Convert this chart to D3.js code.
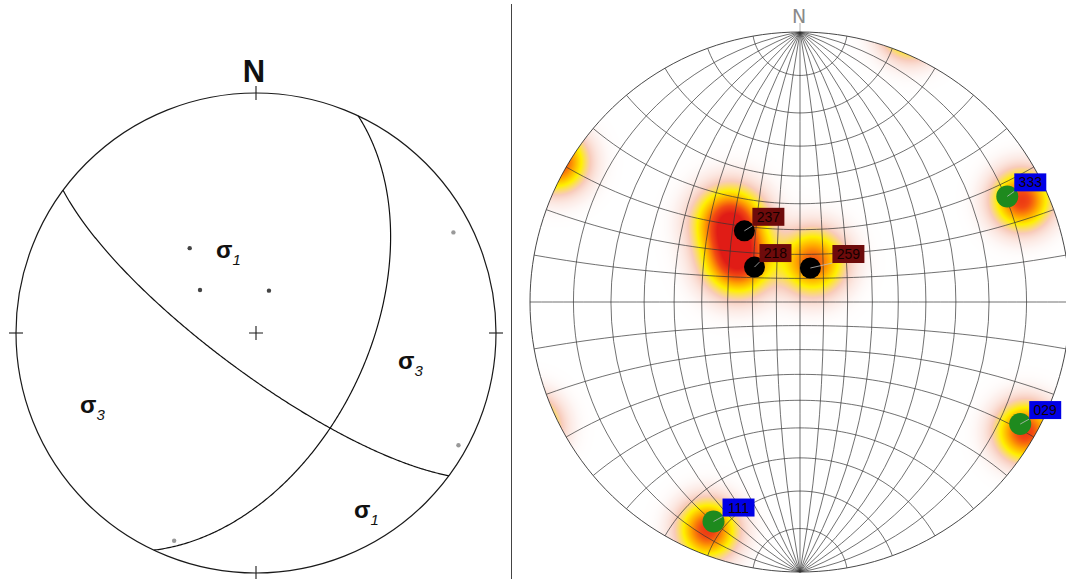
<!DOCTYPE html>
<html>
<head>
<meta charset="utf-8">
<script src="https://cdn.jsdelivr.net/npm/d3@7"></script>
<style>
  html, body { margin: 0; padding: 0; background: #ffffff; }
  svg { display: block; }
</style>
</head>
<body>
<svg id="chart" width="1066" height="579"></svg>
<script>
// Principal stress axes (trend / plunge, degrees), lower hemisphere
const sigma1Trend  = [322, 307.5, 17];
const sigma1Plunge = [53, 66, 75];
const sigma3Trend  = [63, 119, 201.5];
const sigma3Plunge = [8.5, 4, 7.7];

// Separating planes (dip direction / dip, degrees)
const planeDipDir = [216.5, 115.2];
const planeDip    = [76.6, 51.6];

// Tags shown next to each axis on the Wulff net
const sigma1Tags = ["237", "218", "259"];
const sigma3Tags = ["333", "029", "111"];

// Concentration maxima of the axis density (trend / plunge, relative strength)
const densityTrend  = [318.8, 304.1, 18, 65.3, 120, 202];
const densityPlunge = [47, 59, 72.3, 5.8, 2.2, 5.4];
const densityWeight = [1.0, 1.0, 0.75, 0.85, 0.85, 0.85];

// ---------------------------------------------------------------
const W = 1066, H = 579;
const svg = d3.select("#chart");

// trend/plunge -> lon/lat for a pole-centred azimuthal view (north up, east right)
const toGeo = (t, p) => [180 - t, p];

// ===== Left: equal-area (Schmidt) net =====
const cL = [256, 333], rL = 240;
const projL = d3.geoAzimuthalEqualArea()
  .rotate([0, -90]).clipAngle(90)
  .scale(rL / Math.SQRT2).translate(cL).precision(0.1);
const pathL = d3.geoPath(projL);

const left = svg.append("g");

left.append("circle")
  .attr("cx", cL[0]).attr("cy", cL[1]).attr("r", rL)
  .attr("fill", "none").attr("stroke", "#1a1a1a").attr("stroke-width", 1.2);

// cardinal ticks and centre cross
const tickLen = 7;
[[0, -1], [1, 0], [0, 1], [-1, 0]].forEach(([ux, uy]) => {
  const x = cL[0] + ux * rL, y = cL[1] + uy * rL;
  left.append("line")
    .attr("x1", x - (ux ? tickLen : 0)).attr("x2", x + (ux ? tickLen : 0))
    .attr("y1", y - (uy ? tickLen : 0)).attr("y2", y + (uy ? tickLen : 0))
    .attr("stroke", "#1a1a1a").attr("stroke-width", 1.1);
});
left.append("path")
  .attr("d", `M${cL[0] - 7},${cL[1]}H${cL[0] + 7}M${cL[0]},${cL[1] - 7}V${cL[1] + 7}`)
  .attr("stroke", "#1a1a1a").attr("stroke-width", 1.1);

left.append("text")
  .attr("x", 254).attr("y", 82)
  .attr("text-anchor", "middle")
  .attr("font-family", "Liberation Sans, Arial, sans-serif")
  .attr("font-weight", "bold").attr("font-size", 31)
  .attr("fill", "#111").text("N");

// great circles of the two planes, traced as the 90° circle around each pole
planeDipDir.forEach((dd, i) => {
  const pole = toGeo((dd + 180) % 360, 90 - planeDip[i]);
  const ring = d3.geoCircle().center(pole).radius(90).precision(0.5)().coordinates[0];
  left.append("path")
    .datum({ type: "LineString", coordinates: ring })
    .attr("d", pathL)
    .attr("fill", "none").attr("stroke", "#111").attr("stroke-width", 1.2);
});

// axis points
sigma1Trend.forEach((t, i) => {
  const [x, y] = projL(toGeo(t, sigma1Plunge[i]));
  left.append("circle").attr("cx", x).attr("cy", y).attr("r", 2.2).attr("fill", "#444");
});
sigma3Trend.forEach((t, i) => {
  const [x, y] = projL(toGeo(t, sigma3Plunge[i]));
  left.append("circle").attr("cx", x).attr("cy", y).attr("r", 2.2).attr("fill", "#999");
});

// field labels
const fieldLabels = [
  { x: 216, y: 258, sub: "1" },
  { x: 398, y: 369, sub: "3" },
  { x: 80,  y: 413, sub: "3" },
  { x: 354, y: 518, sub: "1" }
];
fieldLabels.forEach(d => {
  const t = left.append("text")
    .attr("x", d.x).attr("y", d.y)
    .attr("font-family", "Liberation Sans, Arial, sans-serif")
    .attr("fill", "#111");
  t.append("tspan").attr("font-size", 24).attr("font-weight", "bold").text("σ");
  t.append("tspan").attr("font-size", 15).attr("font-style", "italic")
    .attr("dy", 7).text(d.sub);
});

// panel divider
svg.append("line")
  .attr("x1", 511.5).attr("x2", 511.5).attr("y1", 4).attr("y2", H)
  .attr("stroke", "#444").attr("stroke-width", 1);

// ===== Right: equal-angle (Wulff) net with density shading =====
const cR = [800, 302], rR = 270;
const projR = d3.geoStereographic()
  .rotate([0, -90]).clipAngle(90).scale(rR).translate(cR);
const projRfar = d3.geoStereographic()
  .rotate([0, -90]).scale(rR).translate(cR);
const projNet = d3.geoStereographic()
  .rotate([0, 0]).clipAngle(90).scale(rR).translate(cR).precision(0.2);
const pathNet = d3.geoPath(projNet);

// density sources: each maximum plus its antipode (wraps across the primitive)
const spread = [21, 21, 20, 18, 18, 18];
const sources = [];
densityTrend.forEach((t, i) => {
  const p = densityPlunge[i], w = densityWeight[i], s = spread[i];
  sources.push({ pos: projR(toGeo(t, p)), s, w });
  sources.push({ pos: projRfar(toGeo((t + 180) % 360, -p)), s, w });
});

const shade = d3.scaleLinear()
  .domain([0, 0.03, 0.15, 0.34, 0.55, 0.78, 1])
  .range(["#ffffff", "#fdf1ee", "#f8cbbb", "#fff000", "#ffa400", "#f24a12", "#e01c16"])
  .clamp(true);

const x0 = cR[0] - rR, y0 = cR[1] - rR, size = 2 * rR;
const canvas = document.createElement("canvas");
canvas.width = size; canvas.height = size;
const ctx = canvas.getContext("2d");
const img = ctx.createImageData(size, size);
for (let j = 0; j < size; j++) {
  for (let i = 0; i < size; i++) {
    const px = x0 + i + 0.5, py = y0 + j + 0.5;
    const dx = px - cR[0], dy = py - cR[1];
    if (dx * dx + dy * dy > rR * rR) continue;
    let v = 0;
    for (const s of sources) {
      const ex = px - s.pos[0], ey = py - s.pos[1];
      v += s.w * Math.exp(-(ex * ex + ey * ey) / (2 * s.s * s.s));
    }
    const c = d3.rgb(shade(v));
    const k = (j * size + i) * 4;
    img.data[k] = c.r; img.data[k + 1] = c.g; img.data[k + 2] = c.b; img.data[k + 3] = 255;
  }
}
ctx.putImageData(img, 0, 0);

const right = svg.append("g");
right.append("image")
  .attr("x", x0).attr("y", y0).attr("width", size).attr("height", size)
  .attr("href", canvas.toDataURL());

// 10° graticule
right.append("path")
  .datum(d3.geoGraticule().extent([[-180, -90], [180, 90]]).step([10, 10]))
  .attr("d", pathNet)
  .attr("fill", "none").attr("stroke", "#333").attr("stroke-width", 0.7);

right.append("path")
  .datum({ type: "Sphere" })
  .attr("d", pathNet)
  .attr("fill", "none").attr("stroke", "#333").attr("stroke-width", 0.9);

right.append("line")
  .attr("x1", cR[0]).attr("x2", cR[0]).attr("y1", 23).attr("y2", cR[1] - rR)
  .attr("stroke", "#999").attr("stroke-width", 0.8);
right.append("text")
  .attr("x", cR[0] - 1).attr("y", 23)
  .attr("text-anchor", "middle")
  .attr("font-family", "DejaVu Sans, sans-serif")
  .attr("font-size", 19).attr("fill", "#8a8a8a")
  .text("N");

// axes with tags
const tagGap = [8, 5, 22, 7, 9, 9];
const marks = [
  ...sigma1Trend.map((t, i) => ({ t, p: sigma1Plunge[i], tag: sigma1Tags[i], fill: "#000000", box: "#6e0b0b", r: 10.5 })),
  ...sigma3Trend.map((t, i) => ({ t, p: sigma3Plunge[i], tag: sigma3Tags[i], fill: "#1e8a1e", box: "#0000e6", r: 11 }))
];
marks.forEach((m, i) => {
  const [x, y] = projR(toGeo(m.t, m.p));
  const bx = x + tagGap[i], by = y - 23, bw = 32, bh = 18;
  right.append("circle").attr("cx", x).attr("cy", y).attr("r", m.r).attr("fill", m.fill);
  right.append("line")
    .attr("x1", x).attr("y1", y).attr("x2", bx).attr("y2", by + bh)
    .attr("stroke", "#bbbbbb").attr("stroke-width", 0.8);
  right.append("rect")
    .attr("x", bx).attr("y", by).attr("width", bw).attr("height", bh)
    .attr("fill", m.box);
  right.append("text")
    .attr("x", bx + bw / 2).attr("y", by + 14)
    .attr("text-anchor", "middle")
    .attr("font-family", "Liberation Sans, Arial, sans-serif")
    .attr("font-size", 14).attr("fill", "#140000")
    .text(m.tag);
});
</script>
</body>
</html>
